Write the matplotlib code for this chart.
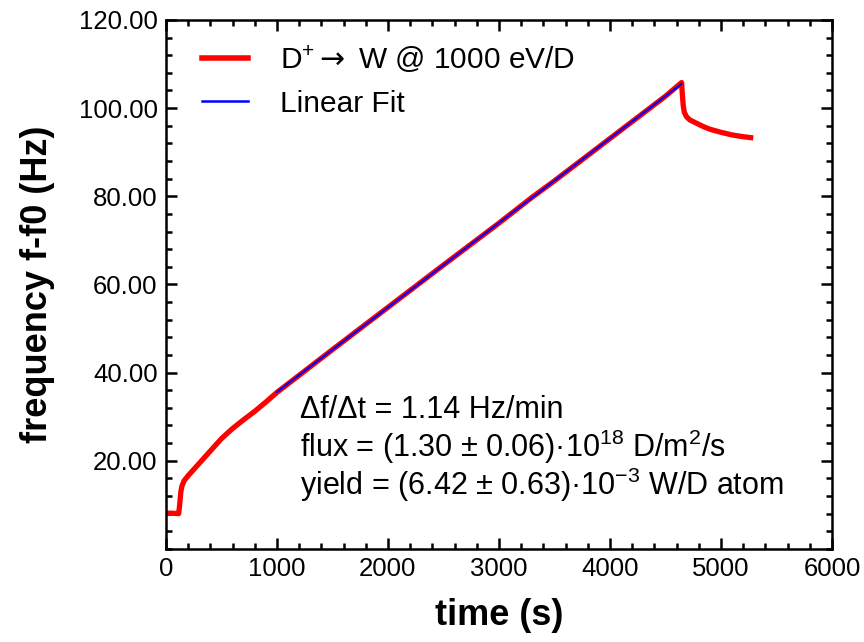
import numpy as np
import matplotlib
matplotlib.use('Agg')
import matplotlib.pyplot as plt
from matplotlib.ticker import MultipleLocator

plt.rcParams['font.family'] = ['Liberation Sans', 'DejaVu Sans']
plt.rcParams['mathtext.fontset'] = 'custom'
plt.rcParams['mathtext.rm'] = 'Liberation Sans'
plt.rcParams['mathtext.it'] = 'Liberation Sans:italic'
plt.rcParams['mathtext.bf'] = 'Liberation Sans:bold'
plt.rcParams['mathtext.sf'] = 'DejaVu Sans'

time_s = [0, 60, 115, 122, 135, 145, 165, 200, 250, 300, 400, 500, 600, 700, 800, 900, 1000,
          1500, 2000, 2500, 3000, 3300, 3500, 4000, 4500, 4645,
          4652, 4660, 4670, 4690, 4720, 4760, 4800, 4850, 4900, 5000, 5100, 5200, 5267]
freq_hz = [8.1, 8.1, 8.0, 9.5, 13.0, 14.3, 15.5, 16.6, 18.0, 19.4, 22.2, 25.0, 27.3, 29.3, 31.2, 33.3, 35.5,
           45.2, 54.8, 64.4, 73.9, 79.8, 83.5, 93.1, 102.7, 105.8,
           103.0, 100.5, 99.0, 98.0, 97.3, 96.8, 96.3, 95.7, 95.2, 94.5, 93.9, 93.5, 93.3]

# linear fit segment
fit_t = [1000, 4645]
fit_f = [35.6, 105.5]

legend_data = r'D$^{+}\mathsf{\rightarrow}$ W @ 1000 eV/D'
legend_fit = 'Linear Fit'
notes = ['Δf/Δt = 1.14 Hz/min',
         r'flux = (1.30 ± 0.06)·10$^{18}$ D/m$^{2}$/s',
         r'yield = (6.42 ± 0.63)·10$^{-3}$ W/D atom']

fig = plt.figure(figsize=(8.64, 6.42), dpi=100)
ax = fig.add_axes([0.192, 0.145, 0.771, 0.824])

ax.plot(time_s, freq_hz, color='#ff0000', lw=3.8, label=legend_data, zorder=2)
ax.plot(fit_t, fit_f, color='#0000ff', lw=1.5, label=legend_fit, zorder=3)

ax.set_xlim(0, 6000)
ax.set_ylim(0, 120)
ax.set_xticks([0, 1000, 2000, 3000, 4000, 5000, 6000])
ax.set_yticks([20, 40, 60, 80, 100, 120])
ax.set_yticklabels(['%.2f' % v for v in [20, 40, 60, 80, 100, 120]])
ax.xaxis.set_minor_locator(MultipleLocator(200))
ax.yaxis.set_minor_locator(MultipleLocator(4))

ax.tick_params(which='both', direction='in', top=True, right=True, width=1.8)
ax.tick_params(which='major', length=8, labelsize=18.5, pad=6)
ax.tick_params(which='minor', length=4)
for s in ax.spines.values():
    s.set_linewidth(1.8)

ax.set_xlabel('time (s)', fontsize=26, fontweight='bold', labelpad=12)
ax.set_ylabel('frequency f-f0 (Hz)', fontsize=26, fontweight='bold', labelpad=17)

leg = ax.legend(loc='upper left', frameon=False, fontsize=21.5, handlelength=1.54,
                handletextpad=1.07, borderaxespad=0, borderpad=0.4, labelspacing=0.5,
                bbox_to_anchor=(0.036, 0.979))
leg.get_lines()[0].set_linewidth(4)
leg.get_lines()[1].set_linewidth(1.8)

for i, txt in enumerate(notes):
    ax.text(0.201, 0.263 - i * 0.0709, txt, transform=ax.transAxes, fontsize=22,
            va='center', ha='left')

fig.savefig('out.png', dpi=100)
